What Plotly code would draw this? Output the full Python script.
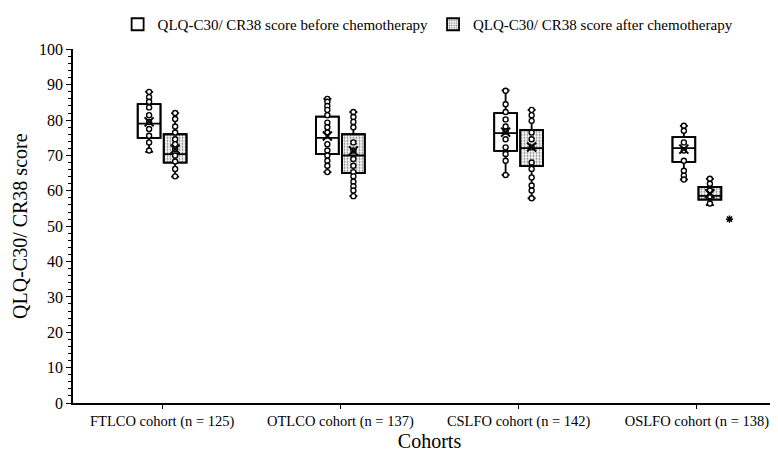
import plotly.graph_objects as go

cohorts = ["FTLCO cohort (n = 125)", "OTLCO cohort (n = 137)",
           "CSLFO cohort (n = 142)", "OSLFO cohort (n = 138)"]

# box statistics
before_low = [71, 65.3, 64.5, 63.2]
before_q1 = [75, 70.4, 71.3, 68.2]
before_med = [79, 75, 76.3, 72.1]
before_q3 = [84.5, 81, 82, 75.2]
before_high = [88, 86, 88.4, 78.4]
before_mean = [79.5, 75.5, 76.6, 71.8]

after_low = [64, 58.5, 57.9, 56]
after_q1 = [68, 65, 67, 57.5]
after_med = [70.4, 70, 72.1, 58.6]
after_q3 = [76, 76, 77.2, 61.1]
after_high = [82, 82.3, 82.9, 63.4]
after_mean = [71.8, 71.3, 72.4, 59.2]

# individual points along each column
before_pts = [
    [88, 86.5, 85.2, 83.6, 81.4, 79.5, 77.5, 75.6, 73.7, 71.4],
    [86, 85.2, 84, 82.9, 81.4, 79.3, 78, 76.5, 73.2, 71.4, 70, 68.5, 67.1, 65.3],
    [88.3, 84.5, 82.3, 80.2, 78.2, 76.8, 74.6, 72.3, 70.4, 68.5, 64.5],
    [78.4, 77, 73.7, 71.4, 68.5, 65.7, 64.3, 63.2],
]
after_pts = [
    [82, 80.3, 78.2, 76.5, 74.6, 73.2, 71.8, 70, 68.3, 66.2, 64.1],
    [82.3, 80.9, 79.5, 78, 73.7, 71.4, 69, 67.1, 65.3, 64.1, 62.6, 61.3, 60.1, 58.5],
    [82.9, 81.4, 79.8, 76.5, 74.6, 72.3, 68, 66.2, 63.8, 61.5, 60.1, 57.9],
    [63.4, 62, 60.1, 58.5, 56.4],
]
outlier_cohort = 3
outlier_value = 52

names = ["QLQ-C30/ CR38 score before chemotherapy", "QLQ-C30/ CR38 score after chemotherapy"]

off = 0.073
bw = 0.128
idx = list(range(len(cohorts)))
xb = [i - off for i in idx]
xa = [i + off for i in idx]

fig = go.Figure()

# box fills (bars give the legend squares and the dotted pattern)
fig.add_trace(go.Bar(x=xb, base=before_q1, y=[h - l for h, l in zip(before_q3, before_q1)],
                     width=bw, name=names[0],
                     marker=dict(color="white", line=dict(color="black", width=1.8))))
fig.add_trace(go.Bar(x=xa, base=after_q1, y=[h - l for h, l in zip(after_q3, after_q1)],
                     width=bw, name=names[1],
                     marker=dict(color="white", line=dict(color="black", width=1.8),
                                 pattern=dict(shape=".", fgcolor="black", bgcolor="white",
                                              size=3, solidity=0.35))))

for xs, lo, q1, md, q3, hi in [(xb, before_low, before_q1, before_med, before_q3, before_high),
                               (xa, after_low, after_q1, after_med, after_q3, after_high)]:
    fig.add_trace(go.Box(x=xs, lowerfence=lo, q1=q1, median=md, q3=q3, upperfence=hi,
                         width=bw, whiskerwidth=0.35, boxpoints=False, showlegend=False,
                         fillcolor="rgba(0,0,0,0)", line=dict(color="black", width=1.8),
                         hoverinfo="skip"))

for xs, pts in [(xb, before_pts), (xa, after_pts)]:
    px, py = [], []
    for x, vals in zip(xs, pts):
        px += [x] * len(vals)
        py += vals
    fig.add_trace(go.Scatter(x=px, y=py, mode="markers", showlegend=False,
                             marker=dict(symbol="circle", size=5, color="white",
                                         line=dict(color="black", width=1.4))))

fig.add_trace(go.Scatter(x=xb + xa, y=before_mean + after_mean, mode="markers", showlegend=False,
                         marker=dict(symbol="x-thin", size=9, line=dict(color="black", width=2))))

fig.add_trace(go.Scatter(x=[xa[outlier_cohort] + 0.11], y=[outlier_value], mode="markers",
                         showlegend=False,
                         marker=dict(symbol="asterisk", size=6, line=dict(color="black", width=1.5))))

fig.update_layout(
    width=778, height=455,
    margin=dict(l=65, r=0, t=40, b=60),
    plot_bgcolor="white", paper_bgcolor="white",
    barmode="overlay",
    font=dict(family="Liberation Serif", size=15, color="black"),
    legend=dict(orientation="h", x=0.54, xanchor="center", xref="container",
                y=1.0, yanchor="top", yref="container",
                font=dict(size=15), itemwidth=30, tracegroupgap=0),
    xaxis=dict(range=[-0.5, 3.5], tickvals=idx, ticktext=cohorts, showgrid=False,
               zeroline=False, showline=True, linecolor="black", linewidth=1.5,
               ticks="outside", ticklen=4, tickcolor="black", tickfont=dict(size=14.5),
               title=dict(text="Cohorts", font=dict(size=20), standoff=0)),
    yaxis=dict(range=[0, 100], dtick=10, showgrid=False, zeroline=False, showline=True,
               linecolor="black", linewidth=1.5, ticks="outside", ticklen=5, tickcolor="black",
               tickfont=dict(size=16),
               minor=dict(dtick=2, ticks="outside", ticklen=3, tickcolor="black"),
               title=dict(text="QLQ-C30/ CR38 score", font=dict(size=20), standoff=6)),
)

fig.write_html("out.html")
